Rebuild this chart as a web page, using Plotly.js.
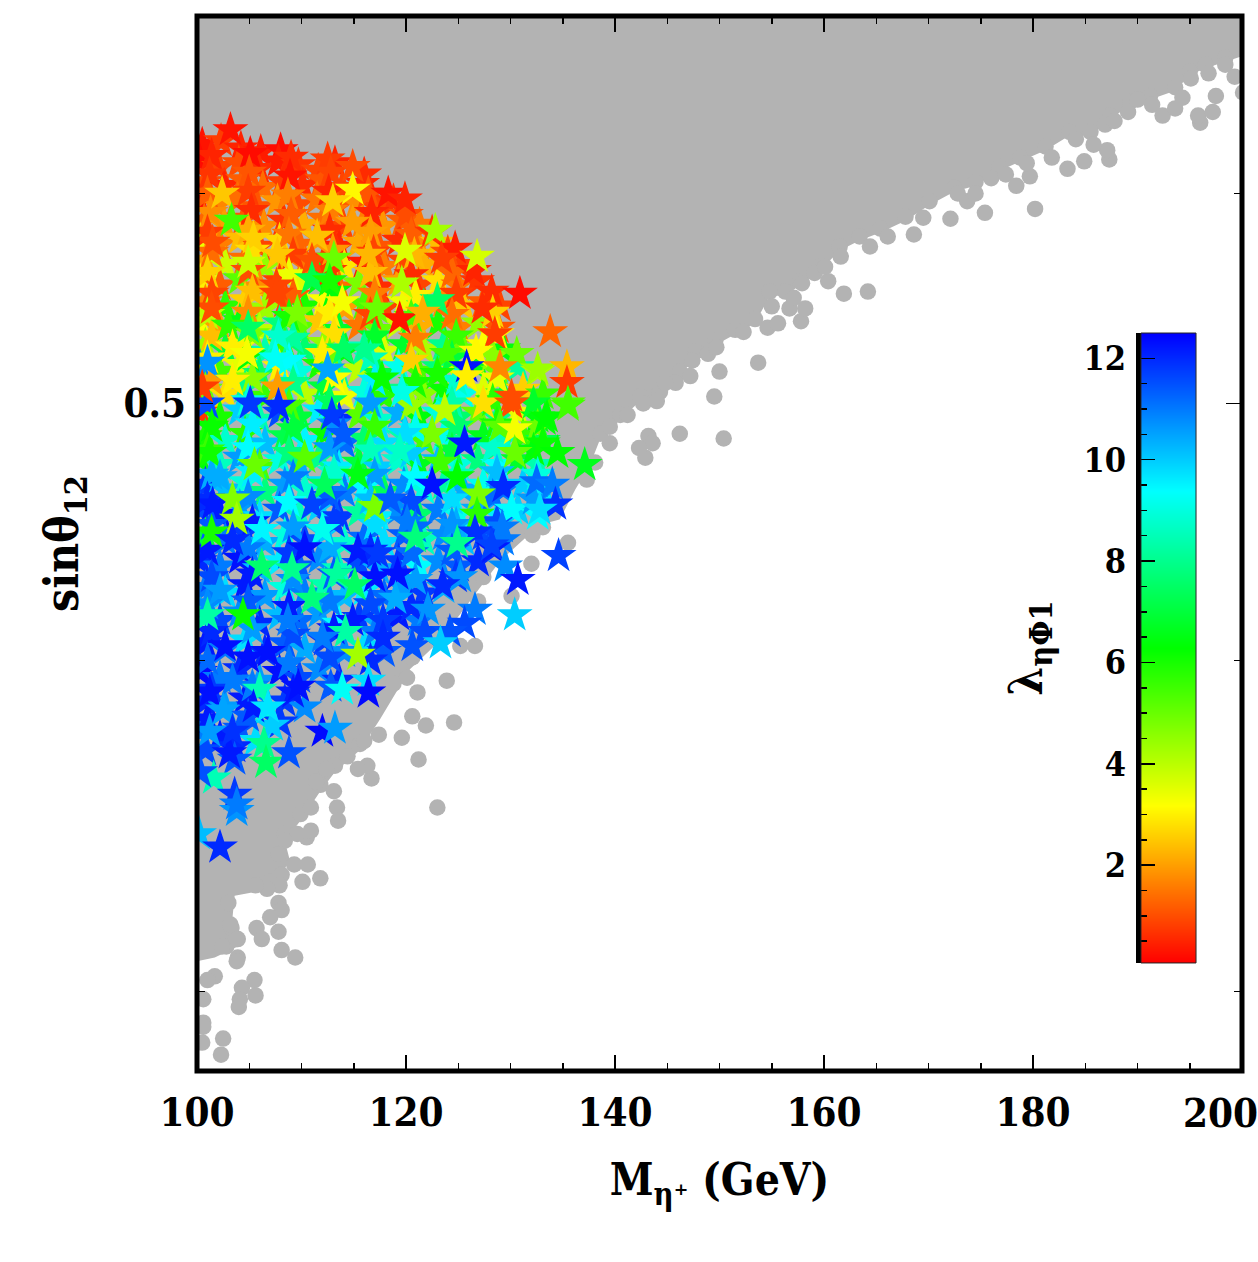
<!DOCTYPE html>
<html><head><meta charset="utf-8">
<script src="https://cdn.plot.ly/plotly-3.0.1.min.js"></script>
<style>html,body{margin:0;padding:0;background:#fff}</style></head>
<body><div id="chart" style="width:1258px;height:1262px"></div>
<script>
const xTickLabels = ['100','120','140','160','180',''];
const xTickValues = [100,120,140,160,180,200];
const yMajorValues = [0.5];
const yMajorLabels = ['0.5'];
const yMinorValues = [0.3,0.4,0.6];
const barTickValues = [2,4,6,8,10,12];
const barLevels = [0,0.5,1,1.5,2,2.5,3,3.5,4,4.5,5,5.5,6,6.5,7,7.5,8,8.5,9,9.5,10,10.5,11,11.5,12,12.5];

// Excluded region: outline of the solid grey mass
const massX = [100,200,200,198.4,196.5,195,193.6,191.2,189.3,187.4,185.5,183.5,181.2,178.8,176.8,174.5,172.5,170.1,167.8,165.4,163.4,161.5,159.6,157.7,156.3,154.8,153.4,151.5,149.6,147.7,146.2,144.3,142.4,140.5,138.6,137.6,136.2,134.7,132.8,129,126.1,123.3,120.4,117.5,115.6,113.2,111.8,109.9,108.4,108.9,107,103.6,103.4,103.9,101.7,100];
const massY = [.70,.70,.676,.673,.669,.665,.656,.651,.648,.640,.631,.631,.623,.617,.612,.604,.601,.594,.586,.580,.576,.571,.561,.554,.549,.549,.536,.531,.526,.521,.512,.503,.501,.493,.485,.474,.464,.452,.450,.436,.421,.407,.397,.380,.370,.363,.357,.348,.342,.336,.328,.326,.320,.312,.309,.308];

// Grey points that roughen the edge of the mass
const edgeX = [198.4,196.5,195,193.6,191.2,189.3,187.4,185.5,183.5,181.2,178.8,176.8,174.5,172.5,170.1,167.8,165.4,163.4,161.5,159.6,157.7,156.3,154.8,153.4,151.5,149.6,147.7,146.2,144.3,142.4,140.5,138.6,115.6,113.2,111.8,109.9,108.4,110.5,107,103.9,103,103.3,102.8];
const edgeY = [.675,.671,.667,.658,.653,.650,.642,.633,.633,.625,.619,.614,.606,.603,.596,.588,.582,.578,.573,.563,.556,.551,.551,.538,.533,.528,.523,.514,.505,.503,.495,.487,.372,.365,.359,.350,.344,.343,.330,.314,.324,.317,.312];

// Individual grey points outside the mass
const greyX = [150.4,146.2,142.9,143.2,143.6,142.3,139.5,139.5,141.2,142.7,144,149.5,145.8,147.2,144.8,147.4,150,153.7,148.9,149.7,152.3,154.6,155.6,157.8,155,156.7,158.2,157.1,161.9,164.2,160.4,157.9,159.1,160.1,161.6,164.4,166.1,168.6,169.5,172.1,175.4,180.2,173.7,172.8,174.5,176,177.4,178.4,179.7,179.4,181.8,183.3,184.9,187.3,187.1,185.8,184.1,186.9,187.8,189.1,190,191.4,192.4,193.6,194.3,196,195.8,197.2,197.5,195.1,196.8,198.4,199.3,200.1,
137.3,138.1,135.5,132,130.1,132.1,133.1,130.6,127.4,124.5,126.9,124.5,126.6,125.2,120.6,123.9,121.1,120.1,118.8,124.6,121.9,120.6,119.6,117.4,116,121.2,123,116.7,116.3,115.4,114.4,112.4,111.4,113.1,113.4,113.5,110.9,110.9,109.6,108.4,107.8,109.3,110.6,110.1,111.8,108.1,107.9,106.7,105.6,107.8,108.1,107,105.7,107.8,106.2,108.1,109.4,103.9,103.8,102.4,103.8,103.2,105.5,104.3,105.6,104.1,104,101.7,101,100.6,100.6,100.6,100.5,102.5,102.3];
const greyY = [.485,.487,.477,.486,.483,.481,.483,.490,.495,.500,.501,.503,.509,.512,.509,.519,.514,.518,.522,.525,.532,.534,.536,.537,.544,.543,.543,.548,.550,.551,.556,.555,.560,.563,.568,.573,.578,.579,.5875,.587,.590,.592,.596,.600,.600,.608,.610,.604,.609,.616,.619,.613,.617,.618,.623,.626,.629,.637,.639,.644,.651,.648,.642,.646,.652,.638,.642,.644,.653,.663,.666,.671,.664,.655,
.468,.475,.443,.435,.423,.446,.449,.448,.430,.421,.421,.418,.405,.405,.401,.393,.389,.394,.392,.379,.378,.381,.374,.375,.373,.367,.352,.361,.365,.364,.368,.364,.360,.357,.352,.348,.352,.345,.344,.342,.338,.335,.335,.330,.331,.332,.329,.328,.329,.324,.322,.320,.317,.316,.314,.311,.309,.309,.308,.312,.314,.318,.303,.301,.299,.298,.296,.304,.303,.298,.292,.291,.287,.288,.284];

// Allowed points: the dense body of stars, row by row
const baseX = [
100.5,102.3,104.2,106.1,108,
100.3,102.1,104,105.9,107.8,109.7,111.6,113.2,
100.8,102.6,104.4,106.3,108.2,110.1,112,113.9,115.8,
100.2,102,103.9,105.8,107.7,109.6,111.5,113.4,115.3,117.2,118.8,
100.7,102.6,104.5,106.4,108.3,110.2,112.1,114,115.9,117.8,119.7,121.3,
100.3,102.2,104.1,106,107.9,109.8,111.7,113.6,115.5,117.4,119.3,121.2,123,
100.8,102.7,104.6,106.5,108.4,110.3,112.2,114.1,116,117.9,119.8,121.7,123.6,125.2,
100.3,102.2,104.1,106,107.9,109.8,111.7,113.6,115.5,117.4,119.3,121.2,123.1,125,126.8,
100.8,102.7,104.6,106.5,108.4,110.3,112.2,114.1,116,117.9,119.8,121.7,123.6,125.5,127.4,129,
100.3,102.2,104.1,106,107.9,109.8,111.7,113.6,115.5,117.4,119.3,121.2,123.1,125,126.9,128.8,
100.8,102.7,104.6,106.5,108.4,110.3,112.2,114.1,116,117.9,119.8,121.7,123.6,125.5,127.4,129.3,
100.3,102.2,104.1,106,107.9,109.8,111.7,113.6,115.5,117.4,119.3,121.2,123.1,125,126.9,128.8,130.7,132.6,
100.8,102.7,104.6,106.5,108.4,110.3,112.2,114.1,116,117.9,119.8,121.7,123.6,125.5,127.4,129.3,131.2,133.1,
100.3,102.2,104.1,106,107.9,109.8,111.7,113.6,115.5,117.4,119.3,121.2,123.1,125,126.9,128.8,130.7,132.6,
100.8,102.7,104.6,106.5,108.4,110.3,112.2,114.1,116,117.9,119.8,121.7,123.6,125.5,127.4,129.3,131.2,133.1,
100.3,102.2,104.1,106,107.9,109.8,111.7,113.6,115.5,117.4,119.3,121.2,123.1,125,126.9,128.8,130.7,132.6,
100.8,102.7,104.6,106.5,108.4,110.3,112.2,114.1,116,117.9,119.8,121.7,123.6,125.5,127.4,129.3,131.2,133.1,
100.3,102.2,104.1,106,107.9,109.8,111.7,113.6,115.5,117.4,119.3,121.2,123.1,125,126.9,128.8,130.7,132.6,
100.8,102.7,104.6,106.5,108.4,110.3,112.2,114.1,116,117.9,119.8,121.7,123.6,125.5,127.4,129.3,
100.3,102.2,104.1,106,107.9,109.8,111.7,113.6,115.5,117.4,119.3,121.2,123.1,125,126.9,
100.8,102.7,104.6,106.5,108.4,110.3,112.2,114.1,116,117.9,119.8,121.7,123.6,
100.3,102.2,104.1,106,107.9,109.8,111.7,113.6,115.5,117.4,119.3,121.2,
100.8,102.7,104.6,106.5,108.4,110.3,112.2,114.1,116,117.9,
100.3,102.2,104.1,106,107.9,109.8,111.7,113.6,
100.8,102.7,104.6,106.5,108.4,110.3,
100.3,102.2,104.1,105.6];
const baseY = [
.626,.628,.624,.622,.623,
.617,.614,.616,.613,.617,.615,.612,.616,
.606,.604,.607,.603,.606,.604,.607,.603,.605,
.596,.594,.597,.593,.596,.594,.597,.593,.595,.593,.596,
.586,.584,.587,.583,.586,.584,.587,.583,.585,.583,.586,.584,
.576,.574,.577,.573,.576,.574,.577,.573,.575,.573,.576,.574,.575,
.566,.564,.567,.563,.566,.564,.567,.563,.565,.563,.566,.564,.566,.564,
.556,.554,.557,.553,.556,.554,.557,.553,.555,.553,.556,.554,.556,.554,.556,
.546,.544,.547,.543,.546,.544,.547,.543,.545,.543,.546,.544,.546,.544,.546,.544,
.536,.534,.537,.533,.536,.534,.537,.533,.535,.533,.536,.534,.536,.534,.536,.534,
.526,.524,.527,.523,.526,.524,.527,.523,.525,.523,.526,.524,.526,.524,.526,.524,
.516,.514,.517,.513,.516,.514,.517,.513,.515,.513,.516,.514,.516,.514,.516,.514,.516,.514,
.506,.504,.507,.503,.506,.504,.507,.503,.505,.503,.506,.504,.506,.504,.506,.504,.506,.504,
.496,.494,.497,.493,.496,.494,.497,.493,.495,.493,.496,.494,.496,.494,.496,.494,.496,.494,
.486,.484,.487,.483,.486,.484,.487,.483,.485,.483,.486,.484,.486,.484,.486,.484,.486,.484,
.476,.474,.477,.473,.476,.474,.477,.473,.475,.473,.476,.474,.476,.474,.476,.474,.476,.474,
.466,.464,.467,.463,.466,.464,.467,.463,.465,.463,.466,.464,.466,.464,.466,.464,.466,.464,
.456,.454,.457,.453,.456,.454,.457,.453,.455,.453,.456,.454,.456,.454,.456,.454,.456,.454,
.446,.444,.447,.443,.446,.444,.447,.443,.445,.443,.446,.444,.446,.444,.446,.444,
.436,.434,.437,.433,.436,.434,.437,.433,.435,.433,.436,.434,.436,.434,.436,
.426,.424,.427,.423,.426,.424,.427,.423,.425,.423,.426,.424,.426,
.416,.414,.417,.413,.416,.414,.417,.413,.415,.413,.416,.414,
.406,.404,.407,.403,.406,.404,.407,.403,.405,.403,
.396,.394,.397,.393,.396,.394,.397,.393,
.386,.384,.387,.383,.386,.384,
.376,.374,.377,.373];
const baseL = [
.3,.8,.5,.4,.2,
.2,.9,1,.6,.4,.7,.9,.5,
1,.5,1.2,1.4,.8,.6,1.1,.9,.5,
.3,1.7,1.4,1.1,1.9,1,1.5,1.2,1.8,.9,.7,
1.3,2,1.1,1.8,.7,2.2,1.4,.9,1.6,1.9,1.2,1.5,
3.4,1.6,2.4,.9,2.7,1.3,1.9,.5,2.1,1.1,.6,1.7,2.4,
2.1,3.8,1.4,4.5,2.3,1.5,.7,2.9,.4,1.6,.9,2.2,1.2,.8,
3,1.2,5.2,1.8,.8,3.6,6.5,1.4,4.8,.6,2,.9,2.8,1.5,.7,
1.7,5.8,2.6,4.4,1,6,3.2,2,5.4,.9,3.4,7.4,1.8,2.5,1.2,.9,
3.2,2,6.5,4,7.8,5.2,2.5,6.8,1.5,5,3.8,2.2,6,1.6,4.5,1.1,
4.4,7,3.4,8.4,5.6,7.6,4.5,6.4,8.6,3.6,6.8,4.2,8,5,3.2,6.4,
11,5.5,3.5,7.6,3,9,6,8.2,4,7,9.2,5.4,7.8,3.8,6.6,5,8.2,4.2,
5,2.8,8,5.6,9.4,4,7,3.4,9,5.8,8,4.6,6.2,9.2,3.6,7,2.6,5.6,
.7,6,10,8.4,11.6,7,9.6,12,5.2,8.8,10.4,6.4,9,7.6,5,8,3.5,6.4,
6,8.8,5.8,10.2,7.2,9.5,6.2,11.2,7.6,9.8,8.4,5.4,9.2,8,6.6,8.6,5.6,7.2,
6.4,8.6,10.6,5.4,9,10.4,8,9.6,7,10,8.8,6.6,10.2,9,7.8,9.4,6.8,8.4,
11.8,10.2,9,7.8,10.6,8.8,9.8,11,9.4,7.4,10.8,9,8.2,10.4,9.2,11,10,9.6,
11.6,12.2,10.6,9.8,11.4,8.6,10,11.8,8.2,9.6,10.8,7.6,11,9.2,10.4,9.6,10,9.4,
7,11,11.8,10.4,9,11.6,10,8.8,11.2,9.8,11.4,8.6,10.8,10.2,11.6,11,
12,11,12.3,10.2,9.6,11.4,10.8,8.6,11.6,10.4,11.8,9.4,10.8,11.4,12,
11,9.8,12.2,10.6,9,11,8.4,10.2,9.6,11.2,10.6,11.8,10.4,
8.6,11.6,10.8,12,10.2,11.2,10.6,9.4,11.8,10.4,12.2,11,
12.2,11,9.8,12,11.4,10.4,11.8,10.8,9.8,11.4,
12.4,11,12,10.6,12.3,11.6,10.8,12,
12,10.6,12.2,9,11.8,10.8,
11,12.2,11.4,9.8];

// Allowed points: second body layer, between the rows above
const midX = [
101.4,105.1,109,112.5,
101.2,105,108.9,112.8,116,
101,104.9,108.7,112.6,116.4,
101.3,105.2,109,112.8,116.7,120,
101,104.9,108.8,112.7,116.6,120.5,122.5,
101.4,105.3,109.2,113,116.9,120.8,124,
101,104.9,108.8,112.7,116.6,120.5,124.4,126.5,
101.4,105.3,109.2,113.1,117,120.9,124.8,128.2,
101,104.9,108.8,112.7,116.6,120.5,124.4,128.3,
101.4,105.3,109.2,113.1,117,120.9,124.8,128.7,
101,104.9,108.8,112.7,116.6,120.5,124.4,128.3,
101.4,105.3,109.2,113.1,117,120.9,124.8,128.7,
101,104.9,108.8,112.7,116.6,120.5,124.4,128.3,132.2,
101.4,105.3,109.2,113.1,117,120.9,124.8,128.7,132.6,
101,104.9,108.8,112.7,116.6,120.5,124.4,128.3,132.2,
101.4,105.3,109.2,113.1,117,120.9,124.8,128.7,132.6,
101,104.9,108.8,112.7,116.6,120.5,124.4,128.3,132.2,
101.4,105.3,109.2,113.1,117,120.9,124.8,128.7,
101,104.9,108.8,112.7,116.6,120.5,124.4,128.3,
101.4,105.3,109.2,113.1,117,120.9,124.8,
101,104.9,108.8,112.7,116.6,120.5,
101.4,105.3,109.2,113.1,117,
101,104.9,108.8,112.7,116.6,
101.4,105.3,109.2,112.8,
101,104.9,108,
100.8,103.6];
const midY = [
.620,.621,.619,.618,
.610,.611,.609,.611,.610,
.600,.601,.599,.601,.600,
.590,.591,.589,.591,.590,.589,
.580,.581,.579,.581,.580,.579,.580,
.570,.571,.569,.571,.570,.569,.570,
.560,.561,.559,.561,.560,.559,.560,.561,
.550,.551,.549,.551,.550,.549,.550,.551,
.540,.541,.539,.541,.540,.539,.540,.541,
.530,.531,.529,.531,.530,.529,.530,.531,
.520,.521,.519,.521,.520,.519,.520,.521,
.510,.511,.509,.511,.510,.509,.510,.511,
.500,.501,.499,.501,.500,.499,.500,.501,.500,
.490,.491,.489,.491,.490,.489,.490,.491,.490,
.480,.481,.479,.481,.480,.479,.480,.481,.480,
.470,.471,.469,.471,.470,.469,.470,.471,.470,
.460,.461,.459,.461,.460,.459,.460,.461,.460,
.450,.451,.449,.451,.450,.449,.450,.451,
.440,.441,.439,.441,.440,.439,.440,.441,
.430,.431,.429,.431,.430,.429,.430,
.420,.421,.419,.421,.420,.419,
.410,.411,.409,.411,.410,
.400,.401,.399,.401,.400,
.390,.391,.389,.391,
.380,.381,.379,
.370,.371];
const midL = [
.5,.2,.6,.8,
.7,1.1,.3,.9,.6,
1.2,.8,1.6,.5,1.1,
1.8,.6,1.2,1.6,.5,1,
.8,2.2,1.5,.6,2,1.2,.7,
1.4,2.8,.8,1.9,.9,2.3,1,
2.6,1,3.4,.7,2.4,.6,1.3,.5,
.9,2.4,1.2,6.4,1.6,3,.8,.6,
4,1.8,6,3,.9,5.4,1.4,2.6,
2.4,4.8,8.2,2.8,6.8,1.6,5.6,3,
3,6.4,9.4,5,8.6,2.6,7,4.6,
2,4.6,8,3.2,9.6,6,8.8,3.4,
11.6,9,5.4,7.4,10.6,4.4,8.4,5.8,6.8,
6.2,9.6,7,10.8,5.6,9.2,7.6,6,5,
5.6,9.4,7.8,10.6,8.6,10,7,8.8,6.4,
10.4,9.6,11,8.8,10.6,9.4,8.6,10.2,9,
12,10.8,9.4,11.4,10.2,11.6,9.8,11.2,10.6,
11.4,12.2,10.6,11.8,9.8,11.2,10.4,11.6,
12.2,11,11.8,10.4,12,11.2,11.4,12.2,
11.6,12.2,10.8,11.4,12.3,10.6,11.8,
10.8,11.4,12.2,11,11.6,12,
12,10.6,11.6,12.2,11,
11.2,12.3,11,11.6,12,
11.8,11,12.2,11.4,
12.2,11.4,11.8,
11.6,12];

// Allowed points: the individually legible stars, drawn on top
const topX = [
103.2,114.9,102.4,114.9,113,103.3,114.9,118.3,119.9,122.8,
124.7,123.4,126.8,111.5,105.4,101.5,119.9,116.4,107.7,104.9,
111,113.1,130.9,111,112.7,107.6,107.6,119.6,127.3,123,
101.4,113.9,117.2,119.4,121.6,133.8,128.5,130.6,109.6,103,
104.9,107.8,107.5,112,116,114,103.4,104.8,101,123.9,
126.7,129,132.6,135.4,135.4,125.8,135.5,133.3,130.1,125.8,
112.5,103.4,100.5,119.6,107.7,123,117.7,105.1,107.8,112.9,
114,123.7,127.4,130.1,133.5,135.5,122.5,129,130.4,125.6,
119.9,101.2,133.1,134.5,137.1,130.4,110.3,105.5,123.3,119.4,
102.2,115.4,112.2,124.9,122.5,129.3,132.5,134,126.9,134.3,
101.5,103.4,103.8,111,117,118.5,126.8,130.1,132.8,120.1,
106.2,101.4,103.4,112,124.4,129.2,126.6,128.2,120.9,115.4,
117.3,106.2,124.9,110.3,129.5,130.7,134.6,119.2,113.4,115.1,
109.1,102.2,125.2,123.5,111,104.4,101,119,122.1,126.6,
130.4,125.6,114.9,117.8,108.7,121.8,124.2,114.2,112,117.8,
120.6,123.3,115.4,106.8,102.7,109.7,113.9,116.4,116.4,106,
101.2,103.4,112,113.2,107.2,106.4,106.6,108.8,103.6,103.1,
101.6,100.3,103.6,103.8,103.8,100.2,102.2,102.5,105.4,106.8,
103.4,101.2];
const topY = [
.634,.614,.600,.602,.596,.586,.585,.600,.597,.581,
.572,.567,.568,.578,.577,.575,.571,.569,.569,.565,
.566,.567,.550,.557,.556,.554,.550,.555,.543,.547,
.543,.546,.543,.538,.541,.532,.531,.522,.541,.535,
.534,.530,.520,.522,.524,.524,.525,.522,.518,.522,
.523,.516,.515,.516,.509,.516,.500,.493,.503,.512,
.515,.510,.507,.505,.507,.513,.511,.500,.499,.495,
.487,.497,.500,.500,.494,.499,.487,.490,.489,.483,
.487,.479,.483,.479,.474,.479,.477,.474,.475,.480,
.469,.470,.466,.469,.466,.465,.467,.466,.462,.458,
.458,.460,.452,.458,.457,.460,.454,.456,.456,.451,
.448,.447,.444,.448,.450,.449,.447,.442,.445,.440,
.439,.434,.443,.441,.434,.429,.438,.431,.431,.427,
.433,.425,.430,.427,.422,.416,.416,.422,.418,.418,
.416,.413,.414,.414,.414,.410,.410,.410,.408,.408,
.405,.406,.402,.403,.405,.391,.390,.393,.389,.390,
.389,.393,.376,.377,.378,.372,.366,.369,.367,.369,
.361,.363,.356,.351,.353,.344,.340,.383,.384,.384,
.376,.376];
const topL = [
.3,1,2.5,3.1,2.6,5.5,2,.3,.5,4.3,
.4,.8,3.7,2.4,2.6,1,3.6,2.3,2.5,3.8,
1,5,.2,7.2,6,.9,.9,4.2,.6,7.5,
1,3.3,5,.3,2.2,1.3,.8,5,4.8,5.8,
7.5,8.8,9.3,3,8,7.5,3,3.3,10.7,5.5,
3.1,1.7,4.4,2.3,.8,12.3,5.3,6.4,1,3,
10.5,3,.8,9.1,2,6,6.2,11.8,12,11.8,
11.4,4,2.8,1,6.3,5.5,4.8,5.2,3.3,12.2,
9.8,6.1,6.2,6.3,6.6,5,5.2,5,5.5,8.7,
10.4,6.5,7.4,6.3,12.3,12,11.2,11,4.8,11.9,
12.2,4.7,4.3,11.7,4.8,11.4,5.8,9.4,9.8,11,
9.5,6,12,9.2,10.7,11,11.9,11.7,7.8,12.2,
11.8,7.6,8,12.3,10.8,12.2,11.7,12.3,8.2,7.5,
8,10.6,10.7,12,7.8,6.2,8.3,10.4,10.7,11,
10,11.6,12.2,11.8,11,11.6,11.5,8.3,11,12,
11.5,10,4.3,12.3,12.3,12.3,9.3,9.8,12.4,8.5,
12.3,11,12.4,10.6,10,8,7.5,11.5,11.4,12.2,
8.5,11.5,11.8,10.7,11,10.2,12,10.5,12.2,9.7,
11.9,10.6];

const lambdaMin = 0.07, lambdaMax = 12.5;
const rainbow = [[0,'#ff0000'],[0.25,'#ffff00'],[0.5,'#00ff00'],[0.75,'#00ffff'],[1,'#0000ff']];
const fontFamily = '"DejaVu Serif Condensed","DejaVu Serif",serif';
const ink = '#000';
const starMarker = l => ({symbol:'star',size:27,color:l,colorscale:rainbow,cmin:lambdaMin,cmax:lambdaMax,showscale:false,line:{width:0}});

const traces = [
 {type:'scatter',mode:'lines',x:massX,y:massY,fill:'toself',fillcolor:'#b3b3b3',line:{width:0,color:'#b3b3b3'},hoverinfo:'skip',showlegend:false},
 {type:'scatter',mode:'markers',x:edgeX,y:edgeY,marker:{symbol:'circle',size:16.5,color:'#b3b3b3'},showlegend:false},
 {type:'scatter',mode:'markers',x:greyX,y:greyY,marker:{symbol:'circle',size:16.5,color:'#b3b3b3'},showlegend:false},
 {type:'scatter',mode:'markers',x:baseX,y:baseY,marker:starMarker(baseL),showlegend:false},
 {type:'scatter',mode:'markers',x:midX,y:midY,marker:starMarker(midL),showlegend:false},
 {type:'scatter',mode:'markers',x:topX,y:topY,marker:starMarker(topL),showlegend:false},
 {type:'heatmap',xaxis:'x2',yaxis:'y2',x:[0,1],y:barLevels,z:barLevels.map(v=>[v,v]),colorscale:rainbow,zmin:lambdaMin,zmax:lambdaMax,showscale:false,zsmooth:'best',hoverinfo:'skip'}
];
const layout = {
 width:1258,height:1262,paper_bgcolor:'#fff',plot_bgcolor:'#fff',showlegend:false,
 margin:{l:197,r:16,t:16,b:191,pad:0},
 font:{family:fontFamily,color:ink,size:40,weight:700},
 xaxis:{domain:[0,1],range:[100,200],tickvals:xTickValues,ticktext:xTickLabels,ticks:'inside',ticklen:16,tickwidth:1.5,tickcolor:ink,
   minor:{dtick:5,tick0:100,ticks:'inside',ticklen:8,tickwidth:1.5,tickcolor:ink,showgrid:false},
   showline:true,linewidth:1,linecolor:ink,mirror:'allticks',showgrid:false,zeroline:false,ticklabelstandoff:6,
   tickfont:{family:fontFamily,size:40,weight:700,color:ink},
   title:{text:'M<sub>η⁺</sub> (GeV)',font:{family:fontFamily,size:44,weight:700,color:ink},standoff:30}},
 yaxis:{domain:[0,1],type:'log',range:[Math.log10(0.28),Math.log10(0.7)],tickvals:yMajorValues,ticktext:yMajorLabels,ticks:'inside',ticklen:16,tickwidth:1.5,tickcolor:ink,
   minor:{tickvals:yMinorValues,ticks:'inside',ticklen:8,tickwidth:1.5,tickcolor:ink,showgrid:false},
   showline:true,linewidth:1,linecolor:ink,mirror:'allticks',showgrid:false,zeroline:false,ticklabelstandoff:2,
   tickfont:{family:fontFamily,size:40,weight:700,color:ink},
   title:{text:'sinθ<sub>12</sub>',font:{family:fontFamily,size:46,weight:700,color:ink},standoff:30}},
 xaxis2:{domain:[0.9033,0.956],anchor:'y2',range:[0,1],showticklabels:false,ticks:'',showgrid:false,zeroline:false},
 yaxis2:{domain:[0.1024,0.6995],anchor:'x2',side:'left',range:[lambdaMin,lambdaMax],tickvals:barTickValues,ticks:'inside',ticklen:14,tickwidth:1.5,tickcolor:ink,
   minor:{dtick:0.5,tick0:0,ticks:'inside',ticklen:6,tickwidth:1.5,tickcolor:ink,showgrid:false},
   showline:true,linewidth:5,linecolor:ink,showgrid:false,zeroline:false,ticklabelstandoff:3,
   tickfont:{family:fontFamily,size:34,weight:700,color:ink},
   title:{text:'λ<sub>ηΦ1</sub>',font:{family:fontFamily,size:46,weight:700,color:ink},standoff:28}},
 annotations:[{text:'200',xref:'x',yref:'paper',x:197.9,y:-0.0389,xanchor:'center',yanchor:'middle',showarrow:false,font:{family:fontFamily,size:40,weight:700,color:ink}}],
 shapes:[
  {type:'rect',xref:'paper',yref:'paper',x0:0,x1:1,y0:0,y1:1,line:{color:ink,width:5},layer:'above'},
  {type:'rect',xref:'x2 domain',yref:'y2 domain',x0:0,x1:1,y0:0,y1:1,line:{color:'#222',width:1},layer:'above'}
 ]
};
Plotly.newPlot('chart',traces,layout,{displayModeBar:false,staticPlot:true});
</script></body></html>
